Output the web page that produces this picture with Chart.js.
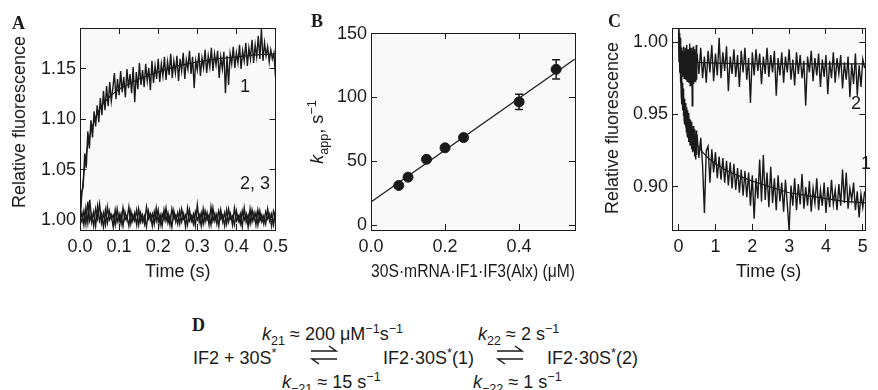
<!DOCTYPE html>
<html>
<head>
<meta charset="utf-8">
<script src="https://cdn.jsdelivr.net/npm/chart.js@4.4.1/dist/chart.umd.min.js"></script>
<style>
  html, body { margin: 0; padding: 0; background: #fff; overflow: hidden; }
  #fig { position: relative; width: 878px; height: 390px; font-family: 'Liberation Sans', Arial, sans-serif; color: #1a1a1a; }
  canvas { position: absolute; top: 0; }
  .t { position: absolute; white-space: nowrap; font-size: 18px; line-height: 20px; }
  .panel { position: absolute; font-family: 'Liberation Serif', 'Times New Roman', serif; font-weight: bold; font-size: 18px; line-height: 18px; }
  .rot { position: absolute; white-space: nowrap; font-size: 18px; line-height: 20px; transform: translate(-50%, -50%) rotate(-90deg); }
  sub, sup { font-size: 0.7em; line-height: 0; }
  svg.arr { position: absolute; }
</style>
</head>
<body>
<div id="fig">
  <canvas id="chartA" width="300" height="285" style="left:0"></canvas>
  <canvas id="chartB" width="300" height="285" style="left:290px"></canvas>
  <canvas id="chartC" width="300" height="285" style="left:580px"></canvas>

  <div class="panel" style="left:12px;top:14px">A</div>
  <div class="panel" style="left:311px;top:12px">B</div>
  <div class="panel" style="left:608px;top:12px">C</div>
  <div class="panel" style="left:192px;top:316px">D</div>

  <div class="rot" style="left:19px;top:122px">Relative fluorescence</div>
  <div class="rot" style="left:317px;top:132px"><i>k</i><sub>app</sub>, s<sup>−1</sup></div>
  <div class="rot" style="left:612px;top:128px">Relative fluorescence</div>

  <div class="t" style="left:240px;top:76px">1</div>
  <div class="t" style="left:240px;top:173px">2, 3</div>
  <div class="t" style="left:851px;top:93px">2</div>
  <div class="t" style="left:861px;top:153px">1</div>

  <div class="t" style="left:193px;top:348px">IF2 + 30S<sup>*</sup></div>
  <div class="t" style="left:262px;top:324px"><i>k</i><sub>21</sub> ≈ 200 μM<sup>−1</sup>s<sup>−1</sup></div>
  <svg class="arr" style="left:309px;top:345px" width="30" height="20" viewBox="0 0 30 20">
    <path d="M2 6 H27 L20 1 M28 14 H3 L10 19" fill="none" stroke="#1a1a1a" stroke-width="1.5"/>
  </svg>
  <div class="t" style="left:282px;top:372px"><i>k</i><sub>−21</sub> ≈ 15 s<sup>−1</sup></div>
  <div class="t" style="left:383px;top:348px">IF2·30S<sup>*</sup>(1)</div>
  <div class="t" style="left:478px;top:324px"><i>k</i><sub>22</sub> ≈ 2 s<sup>−1</sup></div>
  <svg class="arr" style="left:495px;top:345px" width="30" height="20" viewBox="0 0 30 20">
    <path d="M2 6 H27 L20 1 M28 14 H3 L10 19" fill="none" stroke="#1a1a1a" stroke-width="1.5"/>
  </svg>
  <div class="t" style="left:473px;top:372px"><i>k</i><sub>−22</sub> ≈ 1 s<sup>−1</sup></div>
  <div class="t" style="left:547px;top:348px">IF2·30S<sup>*</sup>(2)</div>
</div>

<script>
// ---- panel A: IF2 binding, fluorescence vs time (0-0.5 s) ----
const tickAx = [0, 0.1, 0.2, 0.3, 0.4, 0.5];
const tickAy = [1.00, 1.05, 1.10, 1.15];
const stepA1 = 0.004;
const traceA1 = [
  1.000, 1.028, 1.032, 1.066, 1.052, 1.088, 1.071, 1.099, 1.082, 1.108,
  1.093, 1.114, 1.097, 1.121, 1.104, 1.128, 1.109, 1.133, 1.113, 1.137,
  1.118, 1.131, 1.146, 1.120, 1.140, 1.124, 1.148, 1.127, 1.142, 1.122,
  1.150, 1.131, 1.145, 1.126, 1.152, 1.117, 1.147, 1.130, 1.156, 1.134,
  1.149, 1.132, 1.155, 1.138, 1.151, 1.129, 1.158, 1.136, 1.153, 1.140,
  1.160, 1.137, 1.155, 1.143, 1.162, 1.139, 1.157, 1.144, 1.165, 1.141,
  1.158, 1.146, 1.163, 1.138, 1.160, 1.148, 1.166, 1.140, 1.159, 1.150,
  1.168, 1.145, 1.162, 1.131, 1.158, 1.149, 1.166, 1.143, 1.161, 1.151,
  1.169, 1.146, 1.163, 1.152, 1.171, 1.148, 1.165, 1.154, 1.168, 1.141,
  1.162, 1.150, 1.167, 1.126, 1.163, 1.134, 1.165, 1.155, 1.172, 1.151,
  1.166, 1.156, 1.174, 1.150, 1.168, 1.158, 1.176, 1.153, 1.171, 1.160,
  1.179, 1.156, 1.174, 1.162, 1.183, 1.160, 1.190, 1.158, 1.176, 1.163,
  1.172, 1.157, 1.169, 1.160, 1.166, 1.142
];
const stepA23 = 0.005;
const traceA2 = [
  1.004, 0.998, 1.009, 0.996, 1.018, 0.999, 1.006, 0.994, 1.011, 1.001,
  1.016, 0.997, 1.007, 0.995, 1.013, 1.000, 1.005, 0.993, 1.010, 0.998,
  1.006, 0.996, 1.012, 1.000, 1.004, 0.994, 1.009, 0.999, 1.007, 0.995,
  1.011, 0.998, 1.005, 0.996, 1.013, 1.001, 1.006, 0.994, 1.008, 0.999,
  1.010, 0.995, 1.006, 1.000, 1.012, 0.997, 1.004, 0.993, 1.009, 0.998,
  1.007, 0.996, 1.011, 1.001, 1.005, 0.995, 1.010, 0.999, 1.006, 0.994,
  1.015, 0.998, 1.007, 0.996, 1.009, 1.000, 1.005, 0.995, 1.012, 0.999,
  1.006, 0.994, 1.010, 0.998, 1.007, 0.996, 1.011, 1.001, 1.004, 0.995,
  1.009, 0.999, 1.006, 0.993, 1.012, 0.998, 1.005, 0.996, 1.010, 1.000,
  1.007, 0.995, 1.009, 0.998, 1.004, 0.996, 1.011, 0.999, 1.006, 0.995, 1.008
];
const traceA3 = [
  0.999, 1.007, 0.995, 1.012, 0.997, 1.020, 0.998, 1.008, 0.994, 1.014,
  0.999, 1.006, 0.993, 1.010, 0.997, 1.009, 1.001, 1.005, 0.995, 1.011,
  0.998, 1.006, 0.994, 1.008, 1.000, 1.013, 0.996, 1.005, 0.999, 1.010,
  0.995, 1.007, 0.998, 1.004, 0.993, 1.009, 1.000, 1.006, 0.996, 1.012,
  0.998, 1.005, 0.994, 1.010, 0.999, 1.007, 0.995, 1.011, 1.001, 1.005,
  0.996, 1.009, 0.998, 1.006, 0.993, 1.012, 0.999, 1.004, 0.996, 1.008,
  1.000, 1.005, 0.994, 1.011, 0.998, 1.007, 0.995, 1.013, 0.999, 1.006,
  0.996, 1.009, 1.001, 1.005, 0.994, 1.010, 0.998, 1.006, 0.995, 1.012,
  0.999, 1.004, 0.996, 1.009, 1.000, 1.006, 0.993, 1.011, 0.998, 1.007,
  0.995, 1.010, 0.999, 1.005, 0.996, 1.008, 1.001, 1.006, 0.994, 1.009, 1.003
];
const fitA1t = [0, 0.005, 0.01, 0.015, 0.02, 0.03, 0.04, 0.05, 0.06, 0.08, 0.1, 0.125, 0.15, 0.2, 0.25, 0.3, 0.35, 0.4, 0.45, 0.5];
const fitA1v = [1.000, 1.026, 1.047, 1.063, 1.075, 1.091, 1.102, 1.110, 1.116, 1.124, 1.130, 1.135, 1.140, 1.147, 1.153, 1.157, 1.160, 1.162, 1.164, 1.165];

// ---- panel B: k_app vs 30S complex concentration ----
const tickBx = [0, 0.2, 0.4];
const tickBy = [0, 50, 100, 150];
const concB = [0.075, 0.1, 0.15, 0.2, 0.25, 0.4, 0.5];
const kappB = [31, 37.5, 51.5, 60.5, 68.5, 96.5, 122];
const errB = [0, 0, 0, 0, 0, 6, 7.5];
const fitBx = [0, 0.55];
const fitBy = [18, 130];

// ---- panel C: fluorescence vs time (0-5 s) ----
const tickCx = [0, 1, 2, 3, 4, 5];
const tickCy = [0.90, 0.95, 1.00];
const stepCearly = 0.01;   // t = 0 .. 0.49
const stepClate = 0.05;    // t = 0.50 .. 5.05
const traceC1early = [
  1.006, 0.986, 1.001, 0.979, 0.990, 0.972, 0.985, 0.964, 0.977, 0.957,
  0.972, 0.953, 0.968, 0.949, 0.964, 0.946, 0.961, 0.943, 0.958, 0.941,
  0.957, 0.938, 0.955, 0.936, 0.953, 0.934, 0.950, 0.931, 0.951, 0.933,
  0.947, 0.929, 0.946, 0.930, 0.944, 0.926, 0.945, 0.928, 0.941, 0.924,
  0.942, 0.925, 0.938, 0.921, 0.940, 0.923, 0.936, 0.919, 0.939, 0.922
];
const traceC1late = [
  0.936, 0.920, 0.934, 0.915, 0.882, 0.925, 0.928, 0.903, 0.926, 0.910,
  0.924, 0.906, 0.921, 0.905, 0.920, 0.903, 0.918, 0.901, 0.917, 0.899,
  0.916, 0.898, 0.913, 0.896, 0.912, 0.894, 0.911, 0.893, 0.910, 0.887,
  0.908, 0.878, 0.906, 0.892, 0.919, 0.890, 0.922, 0.891, 0.910, 0.886,
  0.914, 0.889, 0.906, 0.884, 0.908, 0.890, 0.903, 0.883, 0.905, 0.888,
  0.870, 0.901, 0.887, 0.906, 0.884, 0.902, 0.888, 0.909, 0.885, 0.900,
  0.887, 0.904, 0.883, 0.899, 0.889, 0.906, 0.884, 0.898, 0.887, 0.903,
  0.882, 0.900, 0.886, 0.905, 0.888, 0.898, 0.884, 0.902, 0.887, 0.912,
  0.889, 0.910, 0.885, 0.899, 0.891, 0.903, 0.884, 0.897, 0.879, 0.895,
  0.886, 0.897
];
const traceC2early = [
  1.010, 0.995, 1.006, 0.989, 1.003, 0.984, 0.999, 0.981, 0.996, 0.978,
  0.994, 0.976, 0.993, 0.979, 0.997, 0.975, 0.992, 0.980, 0.996, 0.974,
  0.991, 0.977, 0.998, 0.973, 0.990, 0.979, 0.995, 0.972, 0.993, 0.978,
  0.999, 0.970, 0.991, 0.977, 0.996, 0.974, 0.992, 0.956, 0.994, 0.975,
  0.997, 0.971, 0.990, 0.979, 0.995, 0.973, 0.993, 0.976, 0.998, 0.974
];
const traceC2late = [
  0.992, 0.978, 0.996, 0.975, 0.990, 0.972, 0.994, 0.979, 0.998, 0.973,
  0.992, 0.977, 1.003, 0.975, 0.993, 0.980, 0.997, 0.966, 0.990, 0.978,
  0.995, 0.976, 0.991, 0.969, 0.994, 0.979, 0.996, 0.974, 0.989, 0.958,
  0.993, 0.977, 0.995, 0.980, 0.992, 0.971, 0.990, 0.978, 0.996, 0.976,
  0.991, 0.979, 0.994, 0.963, 0.989, 0.977, 0.993, 0.972, 0.990, 0.979,
  0.995, 0.974, 0.988, 0.970, 0.993, 0.978, 0.991, 0.975, 0.987, 0.956,
  0.990, 0.979, 0.994, 0.973, 0.989, 0.977, 0.992, 0.969, 0.988, 0.976,
  0.991, 0.964, 0.987, 0.975, 0.993, 0.972, 0.989, 0.978, 0.991, 0.968,
  0.986, 0.974, 0.990, 0.962, 0.985, 0.971, 0.992, 0.963, 0.984, 0.969,
  0.988, 0.982
];
const fitC1t = [0, 0.02, 0.04, 0.06, 0.08, 0.1, 0.15, 0.2, 0.25, 0.3, 0.4, 0.5, 0.65, 0.8, 1.0, 1.25, 1.5, 2.0, 2.5, 3.0, 3.5, 4.0, 4.5, 5.07];
const fitC1v = [1.000, 0.990, 0.982, 0.975, 0.968, 0.963, 0.954, 0.948, 0.943, 0.939, 0.933, 0.929, 0.924, 0.920, 0.916, 0.912, 0.909, 0.904, 0.900, 0.896, 0.894, 0.892, 0.890, 0.889];
const fitC2t = [0, 0.05, 0.1, 0.2, 0.3, 0.5, 1, 2, 3, 4, 5.07];
const fitC2v = [1.008, 0.997, 0.991, 0.988, 0.987, 0.986, 0.9855, 0.985, 0.985, 0.985, 0.985];

// ---- helpers ----
const FONT = "'Liberation Sans', Arial, sans-serif";
const INK = '#1a1a1a';

function pairs(xs, ys) {
  return ys.map((y, i) => ({ x: xs[i], y: y }));
}
function sampled(t0, dt, ys) {
  return ys.map((y, i) => ({ x: +(t0 + i * dt).toFixed(4), y: y }));
}

function axis(pos, min, max, ticks, fmt, size, title) {
  const horiz = pos === 'bottom' || pos === 'top';
  const main = pos === 'bottom' || pos === 'left';
  return {
    type: 'linear',
    position: pos,
    min: min,
    max: max,
    afterBuildTicks: s => { s.ticks = ticks.map(v => ({ value: v })); },
    afterFit: s => { if (horiz) s.height = size; else s.width = size; },
    ticks: {
      display: main,
      autoSkip: false,
      maxRotation: 0,
      callback: v => fmt(v),
      font: { family: FONT, size: 18 },
      color: INK,
      padding: horiz ? 12 : 10
    },
    grid: { drawOnChartArea: false, drawTicks: true, tickLength: -6, color: INK, tickWidth: 1 },
    border: { display: true, color: INK, width: 1 },
    title: title
      ? { display: true, text: title, font: { family: FONT, size: 18 }, color: INK, padding: { top: 0, bottom: 2 } }
      : { display: false }
  };
}

function trace(data, width) {
  return {
    type: 'line',
    data: data,
    borderColor: INK,
    borderWidth: width || 1.4,
    pointRadius: 0,
    tension: 0,
    fill: false
  };
}

const plotBg = {
  id: 'plotBg',
  beforeDraw(chart) {
    const { ctx, chartArea: a } = chart;
    ctx.save();
    ctx.fillStyle = '#f9f9f9';
    ctx.fillRect(a.left, a.top, a.right - a.left, a.bottom - a.top);
    ctx.restore();
  }
};

const errorBars = {
  id: 'errorBars',
  afterDatasetsDraw(chart) {
    const { ctx, scales } = chart;
    ctx.save();
    ctx.strokeStyle = INK;
    ctx.lineWidth = 1.5;
    concB.forEach((c, i) => {
      if (!errB[i]) return;
      const px = scales.x.getPixelForValue(c);
      const top = scales.y.getPixelForValue(kappB[i] + errB[i]);
      const bot = scales.y.getPixelForValue(kappB[i] - errB[i]);
      ctx.beginPath();
      ctx.moveTo(px, top); ctx.lineTo(px, bot);
      ctx.moveTo(px - 4, top); ctx.lineTo(px + 4, top);
      ctx.moveTo(px - 4, bot); ctx.lineTo(px + 4, bot);
      ctx.stroke();
    });
    ctx.restore();
  }
};

function baseOptions(padding, scales) {
  return {
    responsive: false,
    animation: false,
    devicePixelRatio: 1,
    layout: { padding: padding },
    plugins: { legend: { display: false }, tooltip: { enabled: false } },
    scales: scales
  };
}

const f1 = v => v.toFixed(1);
const f2 = v => v.toFixed(2);
const f0 = v => String(v);

// ---- chart A ----
new Chart(document.getElementById('chartA'), {
  type: 'line',
  data: {
    datasets: [
      trace(sampled(0, stepA23, traceA2)),
      trace(sampled(0, stepA23, traceA3)),
      trace(sampled(0, stepA1, traceA1)),
      trace(pairs(fitA1t, fitA1v), 1.2)
    ]
  },
  options: baseOptions({ top: 28, right: 17, left: 0, bottom: 0 }, {
    x: axis('bottom', 0, 0.5, tickAx, f1, 55, 'Time (s)'),
    x2: axis('top', 0, 0.5, tickAx, f1, 0),
    y: axis('left', 0.99, 1.1907, tickAy, f2, 80),
    y2: axis('right', 0.99, 1.1907, tickAy, f2, 0)
  }),
  plugins: [plotBg]
});

// ---- chart B ----
new Chart(document.getElementById('chartB'), {
  type: 'scatter',
  data: {
    datasets: [
      {
        type: 'line',
        data: pairs(fitBx, fitBy),
        borderColor: INK,
        borderWidth: 1.2,
        pointRadius: 0
      },
      {
        type: 'scatter',
        data: pairs(concB, kappB),
        backgroundColor: INK,
        borderColor: INK,
        pointRadius: 5
      }
    ]
  },
  options: baseOptions({ top: 33, right: 15, left: 0, bottom: 0 }, {
    x: axis('bottom', 0, 0.551, tickBx, f1, 55, '30S·mRNA·IF1·IF3(Alx) (μM)'),
    x2: axis('top', 0, 0.551, tickBx, f1, 0),
    y: axis('left', -3.9, 150.5, tickBy, f0, 81),
    y2: axis('right', -3.9, 150.5, tickBy, f0, 0)
  }),
  plugins: [plotBg, errorBars]
});

// ---- chart C ----
new Chart(document.getElementById('chartC'), {
  type: 'line',
  data: {
    datasets: [
      trace(sampled(0, stepCearly, traceC2early)),
      trace(sampled(0.5, stepClate, traceC2late)),
      trace(sampled(0, stepCearly, traceC1early)),
      trace(sampled(0.5, stepClate, traceC1late)),
      trace(pairs(fitC2t, fitC2v), 1.2),
      trace(pairs(fitC1t, fitC1v), 1.2)
    ]
  },
  options: baseOptions({ top: 28, right: 4, left: 0, bottom: 0 }, {
    x: axis('bottom', -0.18, 5.07, tickCx, f0, 55, 'Time (s)'),
    x2: axis('top', -0.18, 5.07, tickCx, f0, 0),
    y: axis('left', 0.8703, 1.0097, tickCy, f2, 92),
    y2: axis('right', 0.8703, 1.0097, tickCy, f2, 0)
  }),
  plugins: [plotBg]
});
</script>
</body>
</html>
